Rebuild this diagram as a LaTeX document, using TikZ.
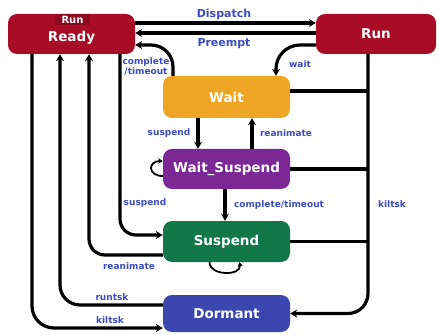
\documentclass[tikz,border=0pt]{standalone}
\usepackage{fontspec}
\setmainfont{DejaVu Sans}
\usetikzlibrary{arrows.meta}
\definecolor{cred}{HTML}{A80C26}
\definecolor{cdred}{HTML}{8C0A1E}
\definecolor{corange}{HTML}{EEA525}
\definecolor{cpurple}{HTML}{7B2896}
\definecolor{cgreen}{HTML}{12784A}
\definecolor{cblue}{HTML}{3B47AE}
\definecolor{clabel}{HTML}{3A4CC0}
\tikzset{
  stbox/.style={rounded corners=9pt, minimum width=127pt, minimum height=40pt, inner sep=0pt,
    text=white, font=\fontsize{13.5}{15}\selectfont\bfseries},
  ln/.style={line width=3.2pt, black},
  arr/.style={ln, -{Stealth[length=7pt,width=8pt]}},
  lbl/.style={text=clabel, font=\fontsize{9}{10}\selectfont\bfseries, inner sep=0pt},
  biglbl/.style={text=clabel, font=\fontsize{11}{12}\selectfont\bfseries, inner sep=0pt}
}
\begin{document}
\begin{tikzpicture}[x=1pt,y=1pt]
\useasboundingbox (0,0) rectangle (439,335);
% nodes
\node[stbox, fill=cred] (ready) at (71.5,301) {};
\node[fill=cdred, text=white, font=\fontsize{10}{11}\selectfont\bfseries, minimum width=35pt, minimum height=11pt, inner sep=0pt] (runsmall) at (72.5,315.5) {Run};
\node[text=white, font=\fontsize{13.5}{15}\selectfont\bfseries, inner sep=0pt] (readytxt) at (71.5,297) {Ready};
\node[stbox, fill=cred, minimum width=120pt] (run) at (376,301) {Run};
\node[stbox, fill=corange, minimum height=42pt] (wait) at (226.5,238) {Wait};
\node[stbox, fill=cpurple] (ws) at (226.5,166) {Wait\_Suspend};
\node[stbox, fill=cgreen, minimum height=41pt] (suspend) at (226.5,93.5) {Suspend};
\node[stbox, fill=cblue, minimum height=37pt] (dormant) at (226.5,21.5) {Dormant};
\coordinate (rl) at (368,200);
% top connectors
\draw[arr] ([yshift=11pt]ready.east) -- ([yshift=11pt]run.west);
\draw[arr] ([yshift=1pt]run.west) -- ([yshift=1pt]ready.east);
\draw[arr, rounded corners=22pt] ([xshift=-53.5pt]wait.north) |- ([yshift=-11pt]ready.east);
\draw[arr, rounded corners=24pt] ([yshift=-11pt]run.west) -| ([xshift=49.5pt]wait.north);
% right column
\draw[arr, rounded corners=20pt] ([xshift=-8pt]run.south) |- (dormant.east);
\path ([yshift=6pt]wait.east) coordinate (we);
\draw[ln] (we) -- (we -| rl);
\draw[ln] (ws.east) -- (ws.east -| rl);
\draw[ln] (suspend.east) -- (suspend.east -| rl);
% middle
\draw[arr] ([xshift=-28.5pt]wait.south) -- ([xshift=-28.5pt]ws.north);
\draw[arr] ([xshift=25.5pt]ws.north) -- ([xshift=25.5pt]wait.south);
\draw[arr] ([xshift=-1.5pt]ws.south) -- ([xshift=-1.5pt]suspend.north);
\draw[line width=1.8pt, -{Stealth[length=4.5pt,width=5.5pt]}] ([yshift=-7pt]ws.west) to[out=180,in=180,looseness=2.6] ([yshift=8pt]ws.west);
\draw[line width=1.8pt, -{Stealth[length=4.5pt,width=5.5pt]}] ([xshift=-17pt]suspend.south) to[out=-90,in=-80,looseness=1.2] ([xshift=13pt]suspend.south);
% left columns
\draw[arr, rounded corners=16pt] ([xshift=48.5pt]ready.south) |- ([yshift=6.5pt]suspend.west);
\draw[arr, rounded corners=16pt] ([yshift=-13.5pt]suspend.west) -| ([xshift=17.5pt]ready.south);
\draw[arr, rounded corners=20pt] ([yshift=8.5pt]dormant.west) -| ([xshift=-11.5pt]ready.south);
\draw[arr, rounded corners=22pt] ([xshift=-39.5pt]ready.south) |- ([yshift=-14.5pt]dormant.west);
% labels
\node[biglbl] (l1) at (224,321) {Dispatch};
\node[biglbl] (l2) at (224,291) {Preempt};
\node[lbl, align=center] (l3) at (146,268) {complete\\/timeout};
\node[lbl] (l4) at (300,271) {wait};
\node[lbl] (l5) at (169,202) {suspend};
\node[lbl] (l6) at (286,202) {reanimate};
\node[lbl] (l7) at (279,130) {complete/timeout};
\node[lbl] (l8) at (392,131) {kiltsk};
\node[lbl] (l9) at (145,132) {suspend};
\node[lbl] (l10) at (129,69) {reanimate};
\node[lbl] (l11) at (112,38) {runtsk};
\node[lbl] (l12) at (110,15) {kiltsk};
\end{tikzpicture}
\end{document}
